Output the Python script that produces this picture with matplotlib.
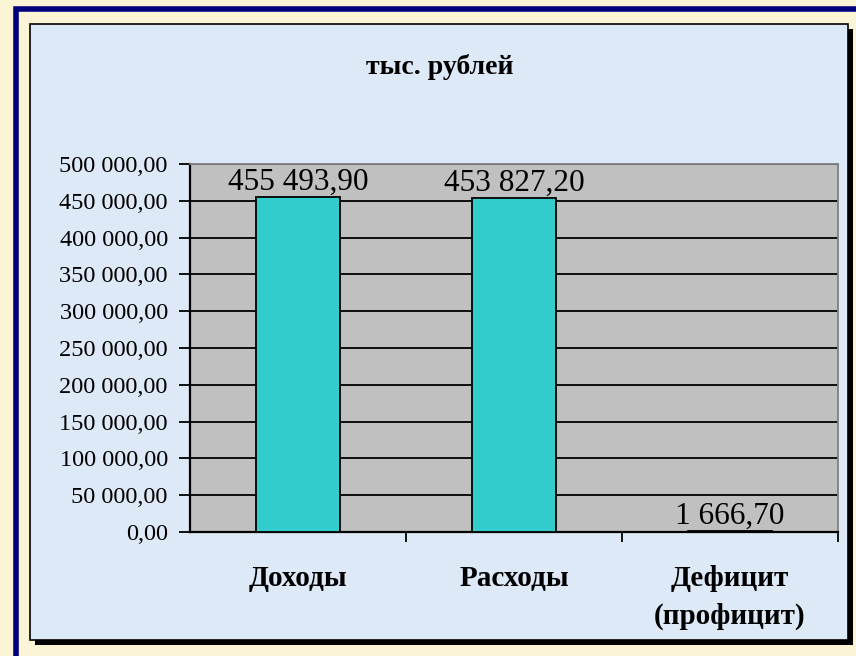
import matplotlib.pyplot as plt
from matplotlib.patches import Rectangle
from matplotlib.ticker import FuncFormatter

categories = ['Доходы', 'Расходы', 'Дефицит\n(профицит)']
values = [455493.90, 453827.20, 1666.70]
value_labels = ['455 493,90', '453 827,20', '1 666,70']
y_ticks = list(range(0, 500001, 50000))
title = 'тыс. рублей'

W, H = 856, 656
cream = '#fbf5d6'
navy = '#00007f'
panel_blue = '#dde9f6'
plot_gray = '#c0c0c0'
bar_color = '#33cccc'


def fx(x):
    return x / W


def fy(y):
    return 1 - y / H


def fmt_rub(v, pos=None):
    s = f"{v:,.2f}"
    return s.replace(',', ' ').replace('.', ',')


plt.rcParams['font.family'] = ['Liberation Serif', 'DejaVu Serif']

fig = plt.figure(figsize=(W / 100, H / 100), dpi=100)
fig.patch.set_facecolor(cream)

# navy frame
fig.patches.append(Rectangle((fx(16), fy(700)), fx(900) - fx(16), fy(9.5) - fy(700),
                             transform=fig.transFigure, fill=False,
                             edgecolor=navy, linewidth=4.0, zorder=0))
# panel shadow + panel
fig.patches.append(Rectangle((fx(35), fy(645)), fx(853) - fx(35), fy(29) - fy(645),
                             transform=fig.transFigure, facecolor='black',
                             edgecolor='none', zorder=1))
fig.patches.append(Rectangle((fx(30), fy(640)), fx(848) - fx(30), fy(24) - fy(640),
                             transform=fig.transFigure, facecolor=panel_blue,
                             edgecolor='black', linewidth=1.2, zorder=2))

ax = fig.add_axes([fx(190), fy(532), fx(838) - fx(190), fy(164) - fy(532)])
ax.set_facecolor(plot_gray)
ax.set_zorder(3)

x = list(range(len(categories)))
ax.bar(x, values, width=0.39, color=bar_color, edgecolor='black',
       linewidth=1.3, zorder=3)

for xi, v, lab in zip(x, values, value_labels):
    ax.text(xi, v, lab, ha='center', va='bottom', fontsize=22.5, zorder=4)

ax.set_xlim(-0.5, 2.5)
ax.set_ylim(0, 500000)
ax.set_yticks(y_ticks)
ax.yaxis.set_major_formatter(FuncFormatter(fmt_rub))
ax.grid(axis='y', color='black', linewidth=1.3, zorder=1)
ax.set_axisbelow(True)
ax.tick_params(axis='y', direction='out', length=8, width=1.3,
               labelsize=17.5, pad=8)

ax.set_xticks(x)
ax.set_xticklabels(categories, fontsize=21, fontweight='bold', linespacing=1.5)
ax.tick_params(axis='x', which='major', length=0, pad=24)
ax.set_xticks([0.5, 1.5, 2.5], minor=True)
ax.tick_params(axis='x', which='minor', direction='out', length=7, width=1.3)

for side in ['left', 'bottom']:
    ax.spines[side].set_linewidth(1.6)
    ax.spines[side].set_color('black')
for side in ['top', 'right']:
    ax.spines[side].set_linewidth(1.3)
    ax.spines[side].set_color('#808080')

fig.text(fx(440), fy(67), title, ha='center', va='center', fontsize=20,
         fontweight='bold', zorder=5)

plt.savefig('out.png', dpi=100, facecolor=cream)
